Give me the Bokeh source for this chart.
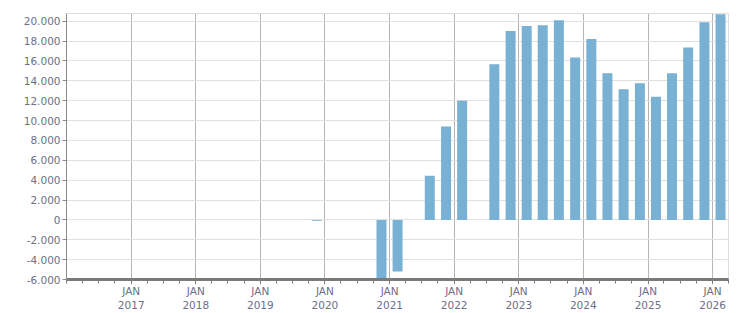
import pandas as pd
from bokeh.plotting import figure
from bokeh.models import FixedTicker, Range1d, ColumnDataSource
from bokeh.embed import file_html
from bokeh.resources import INLINE

# Quarterly values (quarter label -> value)
quarters = ["2019Q4", "2020Q4", "2021Q1", "2021Q3", "2021Q4", "2022Q1",
            "2022Q3", "2022Q4", "2023Q1", "2023Q2", "2023Q3", "2023Q4",
            "2024Q1", "2024Q2", "2024Q3", "2024Q4", "2025Q1", "2025Q2",
            "2025Q3", "2025Q4", "2026Q1"]
values = [-80, -6500, -5200, 4450, 9400, 12000,
          15650, 19000, 19500, 19600, 20100, 16350,
          18200, 14750, 13150, 13750, 12400, 14750,
          17350, 19900, 20700]

years = list(range(2017, 2027))
y_ticks = list(range(-6000, 20001, 2000))

BAR_COLOR = "#78b1d3"
TEXT_COLOR = "#6e6e88"
FONT = "DejaVu Sans"

# bar centers: middle of each quarter
periods = [pd.Period(q, freq="Q") for q in quarters]
centers = [p.start_time + (p.end_time - p.start_time) / 2 for p in periods]
src = ColumnDataSource(dict(x=centers, top=values))

p = figure(width=751, height=313, x_axis_type="datetime",
           output_backend="svg", toolbar_location=None,
           min_border_left=66, min_border_right=23,
           min_border_top=13, min_border_bottom=30)

p.x_range = Range1d(pd.Timestamp("2016-01-01"), pd.Timestamp("2026-04-01"))
p.y_range = Range1d(-6000, 20770)

day_ms = 86400000
p.vbar(x="x", top="top", bottom=0, width=56.5 * day_ms, source=src,
       fill_color=BAR_COLOR, line_color=None)

# x axis ticks: JAN of each year, quarterly minor ticks
major = [pd.Timestamp(f"{y}-01-01") for y in years]
minor = []
for y in range(2016, 2027):
    for m in (1, 4, 7, 10):
        minor.append(pd.Timestamp(f"{y}-{m:02d}-01"))
to_ms = lambda t: (t - pd.Timestamp("1970-01-01")).total_seconds() * 1000
major_ms = [to_ms(t) for t in major]
minor_ms = [to_ms(t) for t in minor]
p.xaxis.ticker = FixedTicker(ticks=major_ms, minor_ticks=minor_ms)
p.xaxis.major_label_overrides = {m: f"JAN\n{y}" for m, y in zip(major_ms, years)}

p.yaxis.ticker = FixedTicker(ticks=y_ticks)
p.yaxis.major_label_overrides = {v: f"{v:,}".replace(",", ".") for v in y_ticks}

for ax in (p.xaxis[0], p.yaxis[0]):
    ax.major_label_text_color = TEXT_COLOR
    ax.major_label_text_font = FONT
    ax.major_label_text_font_size = "10.5px"
    ax.major_tick_in = 0
    ax.minor_tick_in = 0

p.xaxis.axis_line_color = "#7a7a7a"
p.xaxis.axis_line_width = 3
p.xaxis.major_tick_line_color = "#b0b0b0"
p.xaxis.major_tick_out = 5
p.xaxis.minor_tick_line_color = "#7a7a7a"
p.xaxis.minor_tick_out = 4
p.xaxis.major_label_standoff = 0

p.yaxis.axis_line_color = "#8a8a8a"
p.yaxis.major_tick_line_color = "#8a8a8a"
p.yaxis.major_tick_out = 4
p.yaxis.minor_tick_line_color = None
p.yaxis.major_label_standoff = 2

p.xgrid.grid_line_color = "#b4b4b4"
p.ygrid.grid_line_color = "#e0e0e0"

p.outline_line_color = "#dddddd"
p.background_fill_color = "white"
p.border_fill_color = "white"

open("out.html", "w").write(file_html(p, INLINE))
